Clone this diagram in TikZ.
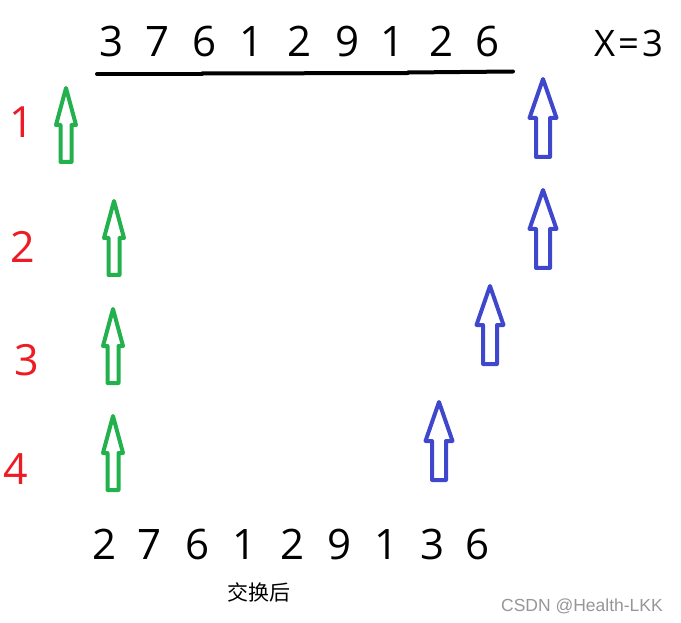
\documentclass[tikz,border=0pt]{standalone}
\usepackage{fontspec}
\setmainfont{Open Sans}
\newfontfamily\cjkfont{Noto Sans CJK SC}
\newfontfamily\wmfont{Liberation Sans}
\definecolor{pgreen}{RGB}{34,177,76}
\definecolor{pblue}{RGB}{63,72,204}
\definecolor{pred}{RGB}{237,28,36}
\definecolor{wmgray}{RGB}{150,150,150}
\tikzset{
  digit/.style={anchor=base, inner sep=0pt, font=\fontsize{42}{44}\selectfont},
  rednum/.style={anchor=base, inner sep=0pt, text=pred, font=\fontsize{43}{45}\selectfont},
  arrowline/.style={line width=4pt, line join=round},
  underline/.style={line width=4pt, line cap=round},
  garrow/.pic={\draw[arrowline, pgreen] (0,2) -- (10,39) -- (5.5,39) -- (5.5,76) -- (-5.5,76) -- (-5.5,39) -- (-10,39) -- cycle;},
  barrow/.pic={\draw[arrowline, pblue] (0,2) -- (13.5,41) -- (7,41) -- (7,80) -- (-7,80) -- (-7,41) -- (-13.5,41) -- cycle;}
}
\begin{document}
\begin{tikzpicture}[x=1pt,y=-1pt]
\useasboundingbox (0,0) rectangle (681,623);
% top row
\foreach \d/\x [count=\i] in {3/112,7/158,6/205,1/252,2/300,9/348,1/393,2/442,6/488}
  \node[digit] (t\i) at (\x,57) {\d};
\node[anchor=base, inner sep=0pt, font=\fontsize{36.5}{38}\selectfont] (xeq) at (628.5,57) {X\kern3pt=\kern3pt3};
% underline segments
\coordinate (u0) at (97,74);
\coordinate (u1) at (202,73.5);
\coordinate (u2) at (408,72.5);
\coordinate (u3) at (513,71.5);
\draw[underline] (u0) -- (202,74);
\draw[underline] (u1) -- (408,73);
\draw[underline] (u2) -- (u3);
% red step numbers
\node[rednum] (r1) at (22,138) {1};
\node[rednum] (r2) at (23,263) {2};
\node[rednum] (r3) at (27,375) {3};
\node[rednum] (r4) at (16,484) {4};
% green arrows
\pic at (66,86) {garrow};
\pic at (114,199) {garrow};
\pic at (113,307) {garrow};
\pic at (113,414) {garrow};
% blue arrows
\pic at (543,77) {barrow};
\pic at (543,188) {barrow};
\pic at (490,284) {barrow};
\pic at (439,400) {barrow};
% bottom row
\foreach \d/\x [count=\i] in {2/105,7/150,6/198,1/245,2/293,9/340,1/387,3/433,6/478}
  \node[digit] (b\i) at (\x,559) {\d};
\node[inner sep=0pt, font=\cjkfont\fontsize{21}{23}\selectfont] (after) at (259,592) {交换后};
\node[inner sep=0pt, text=wmgray, font=\wmfont\fontsize{17.5}{19}\selectfont] (wm) at (582,606) {CSDN @Health-LKK};
\end{tikzpicture}
\end{document}
